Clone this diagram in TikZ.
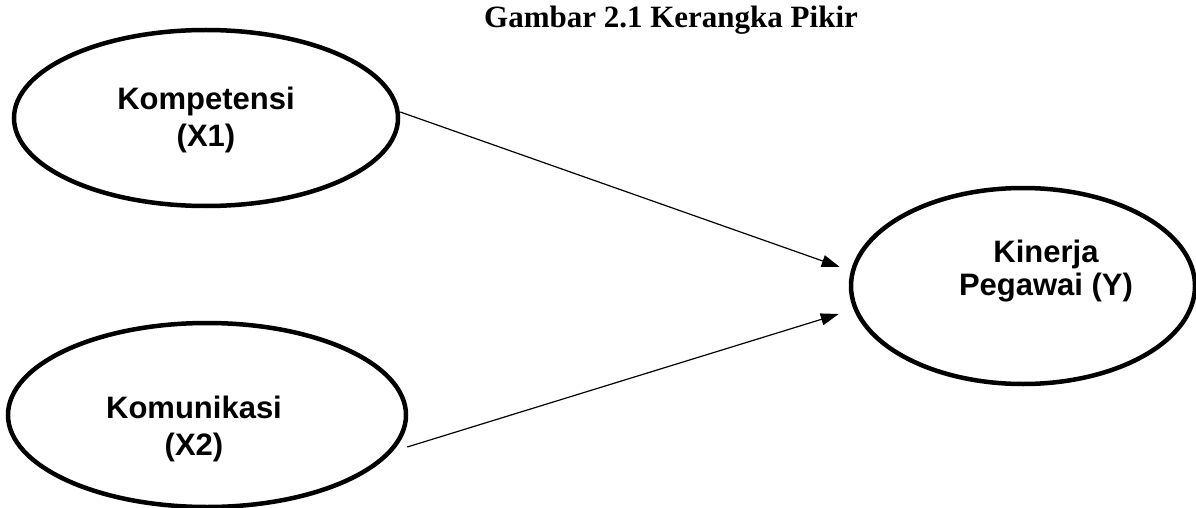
\documentclass[tikz,border=0pt]{standalone}
\usepackage{fontspec}
\setmainfont{Liberation Serif}
\newfontfamily\arialf{Liberation Sans}
\usetikzlibrary{shapes.geometric,arrows.meta,calc}
\tikzset{
  oval/.style={draw=black,line width=4.5pt,ellipse,inner sep=0pt,fill=white},
  ovaltext/.style={align=center,inner sep=0pt,font=\arialf\bfseries\fontsize{31}{37}\selectfont},
  link/.style={line width=1.2pt,-{Triangle[length=18pt,width=12pt]}}
}
\begin{document}
\begin{tikzpicture}[x=1pt,y=-1pt]
\useasboundingbox[fill=white] (0,0) rectangle (1196,508);
\node[font=\bfseries\fontsize{31}{34}\selectfont,inner sep=0pt] (title) at (671,20) {Gambar 2.1 Kerangka Pikir};
\node[oval,minimum width=384pt,minimum height=176pt] (k1) at (206,118) {};
\node[oval,minimum width=398pt,minimum height=184pt] (k2) at (207,415) {};
\node[oval,minimum width=344pt,minimum height=196pt] (y) at (1023,286) {};
\node[ovaltext] (t1) at (206,120) {Kompetensi\\(X1)};
\node[ovaltext] (t2) at (194,429) {Komunikasi\\(X2)};
\node[ovaltext,font=\arialf\bfseries\fontsize{31}{33}\selectfont] (t3) at (1046,271) {Kinerja\\Pegawai (Y)};
\draw[link] ($(k1.east)+(0,-6)$) -- ($(y.west)+(-9,-19)$);
\draw[link] ($(k2.east)+(-1,32)$) -- ($(y.west)+(-10,28)$);
\end{tikzpicture}
\end{document}
